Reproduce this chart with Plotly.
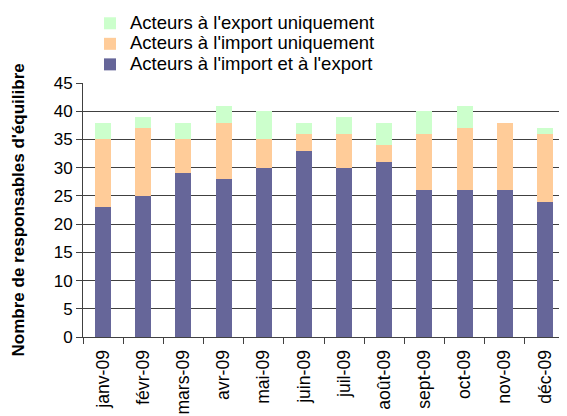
import plotly.graph_objects as go

months = ["janv-09", "févr-09", "mars-09", "avr-09", "mai-09", "juin-09",
          "juil-09", "août-09", "sept-09", "oct-09", "nov-09", "déc-09"]
import_export = [23, 25, 29, 28, 30, 33, 30, 31, 26, 26, 26, 24]
import_only = [12, 12, 6, 10, 5, 3, 6, 3, 10, 11, 12, 12]
export_only = [3, 2, 3, 3, 5, 2, 3, 4, 4, 4, 0, 1]

font = "Liberation Sans, Arial, sans-serif"


def lg(t):
    return '<span style="font-size:18.5px">' + t + '</span>'


fig = go.Figure()
fig.add_trace(go.Bar(x=months, y=import_export, name=lg("Acteurs à l'import et à l'export"),
                     marker=dict(color="#666699", line=dict(width=0))))
fig.add_trace(go.Bar(x=months, y=import_only, name=lg("Acteurs à l'import uniquement"),
                     marker=dict(color="#FFCC99", line=dict(width=0))))
fig.add_trace(go.Bar(x=months, y=export_only, name=lg("Acteurs à l'export uniquement"),
                     marker=dict(color="#CCFFCC", line=dict(width=0))))

# the page body adds an 8px margin, so the figure is 8px smaller than the window
fig.update_layout(
    width=559, height=408,
    barmode="stack", bargap=0.6,
    margin=dict(l=75, r=2, t=75, b=79, autoexpand=False),
    paper_bgcolor="white", plot_bgcolor="white",
    font=dict(family=font, size=17, color="black"),
    showlegend=True,
    legend=dict(traceorder="reversed", x=0.0145, xanchor="left",
                yref="container", y=1.0, yanchor="top",
                font=dict(size=13.5, family=font), bgcolor="rgba(0,0,0,0)",
                tracegroupgap=0, itemwidth=30),
    xaxis=dict(type="category", showline=True, linecolor="#404040", linewidth=1,
               ticks="outside", tickson="boundaries", ticklen=6, tickcolor="#404040",
               tickangle=-90, showgrid=False, tickfont=dict(size=17.6), automargin=False,
               ticklabelstandoff=5),
    yaxis=dict(range=[0, 45], dtick=5, showline=True, linecolor="#404040", linewidth=1,
               ticks="outside", ticklen=6, tickcolor="#404040",
               showgrid=True, gridcolor="#404040", gridwidth=1, zeroline=False,
               tickfont=dict(size=17), automargin=False),
    annotations=[dict(text="<b>Nombre de responsables d'équilibre</b>", textangle=-90,
                      xref="paper", yref="paper", x=-0.134, y=0.5, xanchor="center",
                      yanchor="middle", showarrow=False, font=dict(size=17, family=font))],
)

fig.write_html("out.html")
